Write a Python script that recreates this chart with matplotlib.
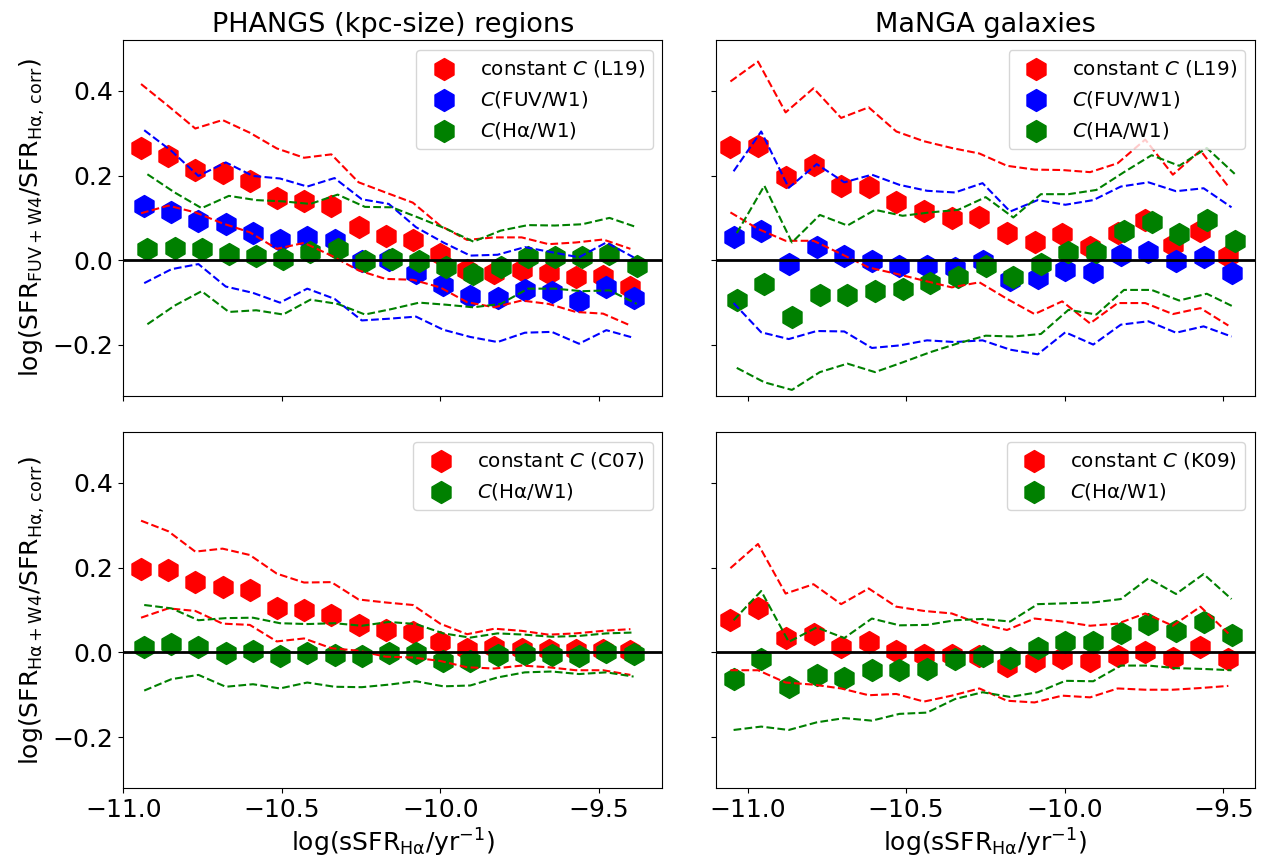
import matplotlib
matplotlib.use("Agg")
import matplotlib.pyplot as plt
from matplotlib.ticker import MultipleLocator
import numpy as np

# bin centres in log(sSFR_Halpha / yr^-1)
x_phangs = [-10.944, -10.858, -10.773, -10.687, -10.601, -10.516, -10.430, -10.344, -10.258, -10.173,
            -10.087, -10.001, -9.916, -9.830, -9.744, -9.659, -9.573, -9.487, -9.401]
x_manga = [-11.054, -10.967, -10.880, -10.792, -10.705, -10.618, -10.531, -10.444, -10.356, -10.269,
           -10.182, -10.095, -10.008, -9.920, -9.833, -9.746, -9.659, -9.572, -9.484]

# PHANGS, FUV+W4 (medians and 16/84 percentiles)
ph_fuv_const = [0.264, 0.246, 0.213, 0.206, 0.186, 0.146, 0.141, 0.128, 0.079, 0.058,
                0.048, 0.015, -0.024, -0.030, -0.023, -0.031, -0.040, -0.036, -0.064]
ph_fuv_const_hi = [0.416, 0.364, 0.311, 0.331, 0.301, 0.264, 0.242, 0.250, 0.184, 0.160,
                   0.136, 0.082, 0.048, 0.054, 0.054, 0.038, 0.042, 0.049, 0.027]
ph_fuv_const_lo = [0.111, 0.129, 0.113, 0.087, 0.066, 0.027, 0.041, 0.011, -0.024, -0.044,
                   -0.046, -0.064, -0.099, -0.111, -0.095, -0.103, -0.122, -0.126, -0.154]
ph_fuv_cfuv = [0.127, 0.115, 0.093, 0.085, 0.064, 0.048, 0.054, 0.049, -0.001, 0.000,
               -0.030, -0.058, -0.085, -0.089, -0.070, -0.075, -0.096, -0.062, -0.089]
ph_fuv_cfuv_hi = [0.307, 0.258, 0.199, 0.231, 0.199, 0.193, 0.174, 0.194, 0.144, 0.133,
                  0.078, 0.042, 0.011, 0.013, 0.031, 0.019, 0.007, 0.042, 0.007]
ph_fuv_cfuv_lo = [-0.054, -0.021, -0.009, -0.062, -0.077, -0.100, -0.067, -0.091, -0.142, -0.138,
                  -0.133, -0.164, -0.181, -0.193, -0.171, -0.169, -0.197, -0.165, -0.183]
ph_fuv_cha = [0.027, 0.028, 0.027, 0.015, 0.011, 0.003, 0.019, 0.027, -0.001, 0.003,
              -0.001, -0.016, -0.032, -0.016, 0.007, 0.007, 0.007, 0.015, -0.013]
ph_fuv_cha_hi = [0.203, 0.160, 0.123, 0.152, 0.142, 0.139, 0.133, 0.155, 0.126, 0.125,
                 0.100, 0.074, 0.044, 0.070, 0.083, 0.082, 0.085, 0.100, 0.078]
ph_fuv_cha_lo = [-0.151, -0.107, -0.073, -0.122, -0.118, -0.128, -0.093, -0.103, -0.128, -0.115,
                 -0.100, -0.105, -0.111, -0.103, -0.067, -0.067, -0.073, -0.071, -0.103]

# MaNGA, FUV+W4
mg_fuv_const = [0.268, 0.270, 0.196, 0.226, 0.175, 0.172, 0.138, 0.116, 0.099, 0.101,
                0.064, 0.042, 0.061, 0.032, 0.064, 0.094, 0.037, 0.068, 0.009]
mg_fuv_const_hi = [0.422, 0.469, 0.349, 0.406, 0.336, 0.361, 0.304, 0.281, 0.265, 0.252,
                   0.223, 0.214, 0.213, 0.208, 0.229, 0.285, 0.202, 0.259, 0.174]
mg_fuv_const_lo = [0.113, 0.074, 0.046, 0.046, 0.015, -0.017, -0.032, -0.048, -0.064, -0.052,
                   -0.091, -0.127, -0.097, -0.149, -0.101, -0.101, -0.127, -0.113, -0.154]
mg_fuv_cfuv = [0.054, 0.068, -0.009, 0.031, 0.009, -0.002, -0.013, -0.013, -0.018, -0.002,
               -0.046, -0.042, -0.023, -0.027, 0.013, 0.020, -0.002, 0.007, -0.031]
mg_fuv_cfuv_hi = [0.210, 0.304, 0.171, 0.227, 0.184, 0.202, 0.178, 0.164, 0.160, 0.182,
                  0.115, 0.142, 0.131, 0.142, 0.174, 0.184, 0.163, 0.170, 0.125]
mg_fuv_cfuv_lo = [-0.101, -0.170, -0.186, -0.167, -0.168, -0.207, -0.201, -0.189, -0.193, -0.189,
                  -0.211, -0.222, -0.170, -0.199, -0.152, -0.144, -0.171, -0.156, -0.180]
mg_fuv_cha = [-0.094, -0.057, -0.133, -0.081, -0.083, -0.073, -0.068, -0.053, -0.039, -0.014,
              -0.040, -0.009, 0.020, 0.020, 0.068, 0.090, 0.062, 0.094, 0.046]
mg_fuv_cha_hi = [0.064, 0.176, 0.042, 0.107, 0.082, 0.119, 0.105, 0.113, 0.119, 0.149,
                 0.101, 0.156, 0.156, 0.166, 0.208, 0.248, 0.223, 0.265, 0.204]
mg_fuv_cha_lo = [-0.254, -0.288, -0.306, -0.264, -0.244, -0.264, -0.241, -0.217, -0.196, -0.178,
                 -0.180, -0.174, -0.117, -0.128, -0.070, -0.070, -0.095, -0.079, -0.111]

# PHANGS, Halpha+W4
ph_ha_const = [0.196, 0.195, 0.167, 0.155, 0.147, 0.106, 0.100, 0.089, 0.065, 0.053,
               0.049, 0.025, 0.008, 0.012, 0.009, 0.005, 0.005, 0.006, 0.004]
ph_ha_const_hi = [0.311, 0.286, 0.238, 0.245, 0.230, 0.186, 0.165, 0.166, 0.125, 0.118,
                  0.112, 0.068, 0.043, 0.056, 0.051, 0.042, 0.045, 0.051, 0.055]
ph_ha_const_lo = [0.082, 0.104, 0.098, 0.068, 0.065, 0.026, 0.033, 0.010, 0.004, -0.010,
                  -0.012, -0.020, -0.035, -0.038, -0.031, -0.035, -0.042, -0.042, -0.053]
ph_ha_cha = [0.012, 0.020, 0.012, -0.002, 0.004, -0.009, -0.002, -0.005, -0.009, -0.002,
             -0.002, -0.021, -0.021, -0.006, -0.004, -0.005, -0.008, 0.001, -0.004]
ph_ha_cha_hi = [0.112, 0.104, 0.076, 0.081, 0.082, 0.069, 0.067, 0.069, 0.063, 0.072,
                0.067, 0.045, 0.035, 0.045, 0.042, 0.037, 0.039, 0.045, 0.047]
ph_ha_cha_lo = [-0.090, -0.063, -0.053, -0.081, -0.075, -0.085, -0.071, -0.081, -0.082, -0.076,
                -0.068, -0.080, -0.078, -0.059, -0.047, -0.045, -0.051, -0.047, -0.057]

# MaNGA, Halpha+W4
mg_ha_const = [0.077, 0.106, 0.035, 0.043, 0.013, 0.025, 0.004, -0.006, -0.006, -0.009,
               -0.031, -0.020, -0.013, -0.020, -0.008, 0.002, -0.012, 0.012, -0.016]
mg_ha_const_hi = [0.199, 0.256, 0.139, 0.161, 0.114, 0.151, 0.108, 0.098, 0.092, 0.068,
                  0.053, 0.080, 0.073, 0.063, 0.068, 0.092, 0.063, 0.108, 0.045]
mg_ha_const_lo = [-0.042, -0.042, -0.071, -0.076, -0.085, -0.101, -0.098, -0.116, -0.102, -0.085,
                  -0.114, -0.118, -0.102, -0.106, -0.085, -0.088, -0.088, -0.084, -0.079]
mg_ha_cha = [-0.063, -0.016, -0.081, -0.053, -0.061, -0.041, -0.042, -0.039, -0.016, -0.008,
             -0.014, 0.010, 0.024, 0.025, 0.047, 0.068, 0.051, 0.071, 0.042]
mg_ha_cha_hi = [0.076, 0.145, 0.025, 0.059, 0.034, 0.080, 0.064, 0.065, 0.076, 0.079,
                0.073, 0.114, 0.116, 0.118, 0.126, 0.175, 0.138, 0.185, 0.126]
mg_ha_cha_lo = [-0.183, -0.175, -0.183, -0.165, -0.155, -0.161, -0.145, -0.142, -0.110, -0.094,
                -0.105, -0.094, -0.067, -0.068, -0.031, -0.031, -0.037, -0.039, -0.042]


def draw(ax, x, series, labels, colors):
    x = np.asarray(x)
    for k, ((med, lo, hi), lab, col) in enumerate(zip(series, labels, colors)):
        xs = x + 0.01 * k
        ax.scatter(xs, med, marker="h", s=250, color=col, label=lab)
        ax.plot(xs, hi, "--", color=col, lw=1.5)
        ax.plot(xs, lo, "--", color=col, lw=1.5)
    ax.axhline(0, color="k", lw=2)
    ax.legend(loc="upper right", fontsize=14.3)


plt.rcParams["mathtext.default"] = "regular"
fig, axes = plt.subplots(2, 2, figsize=(12.71, 8.65), dpi=100, sharey=True, sharex="col")
fig.subplots_adjust(left=0.097, right=0.9874, top=0.9538, bottom=0.089, wspace=0.099, hspace=0.102)

draw(axes[0, 0], x_phangs,
     [(ph_fuv_const, ph_fuv_const_lo, ph_fuv_const_hi),
      (ph_fuv_cfuv, ph_fuv_cfuv_lo, ph_fuv_cfuv_hi),
      (ph_fuv_cha, ph_fuv_cha_lo, ph_fuv_cha_hi)],
     ["constant $\\it{C}$ (L19)", "$\\it{C}$(FUV/W1)", "$\\it{C}$(Hα/W1)"],
     ["red", "blue", "green"])
draw(axes[0, 1], x_manga,
     [(mg_fuv_const, mg_fuv_const_lo, mg_fuv_const_hi),
      (mg_fuv_cfuv, mg_fuv_cfuv_lo, mg_fuv_cfuv_hi),
      (mg_fuv_cha, mg_fuv_cha_lo, mg_fuv_cha_hi)],
     ["constant $\\it{C}$ (L19)", "$\\it{C}$(FUV/W1)", "$\\it{C}$(HA/W1)"],
     ["red", "blue", "green"])
draw(axes[1, 0], x_phangs,
     [(ph_ha_const, ph_ha_const_lo, ph_ha_const_hi),
      (ph_ha_cha, ph_ha_cha_lo, ph_ha_cha_hi)],
     ["constant $\\it{C}$ (C07)", "$\\it{C}$(Hα/W1)"],
     ["red", "green"])
draw(axes[1, 1], x_manga,
     [(mg_ha_const, mg_ha_const_lo, mg_ha_const_hi),
      (mg_ha_cha, mg_ha_cha_lo, mg_ha_cha_hi)],
     ["constant $\\it{C}$ (K09)", "$\\it{C}$(Hα/W1)"],
     ["red", "green"])

axes[0, 0].set_xlim(-11.0, -9.30)
axes[0, 1].set_xlim(-11.10, -9.40)
axes[0, 0].set_ylim(-0.32, 0.52)
axes[0, 0].set_yticks([-0.2, 0.0, 0.2, 0.4])
for ax in axes.flat:
    ax.xaxis.set_major_locator(MultipleLocator(0.5))
    ax.tick_params(labelsize=18)

axes[0, 0].set_title("PHANGS (kpc-size) regions", fontsize=19.5)
axes[0, 1].set_title("MaNGA galaxies", fontsize=19.5)
axes[0, 0].set_ylabel(r"log(SFR$_{\rm FUV+W4}$/SFR$_{\rm H\alpha,\,corr}$)", fontsize=18)
axes[1, 0].set_ylabel(r"log(SFR$_{\rm H\alpha+W4}$/SFR$_{\rm H\alpha,\,corr}$)", fontsize=18)
axes[1, 0].set_xlabel(r"log(sSFR$_{\rm H\alpha}$/yr$^{-1}$)", fontsize=18)
axes[1, 1].set_xlabel(r"log(sSFR$_{\rm H\alpha}$/yr$^{-1}$)", fontsize=18)

fig.savefig("out.png", dpi=100)
